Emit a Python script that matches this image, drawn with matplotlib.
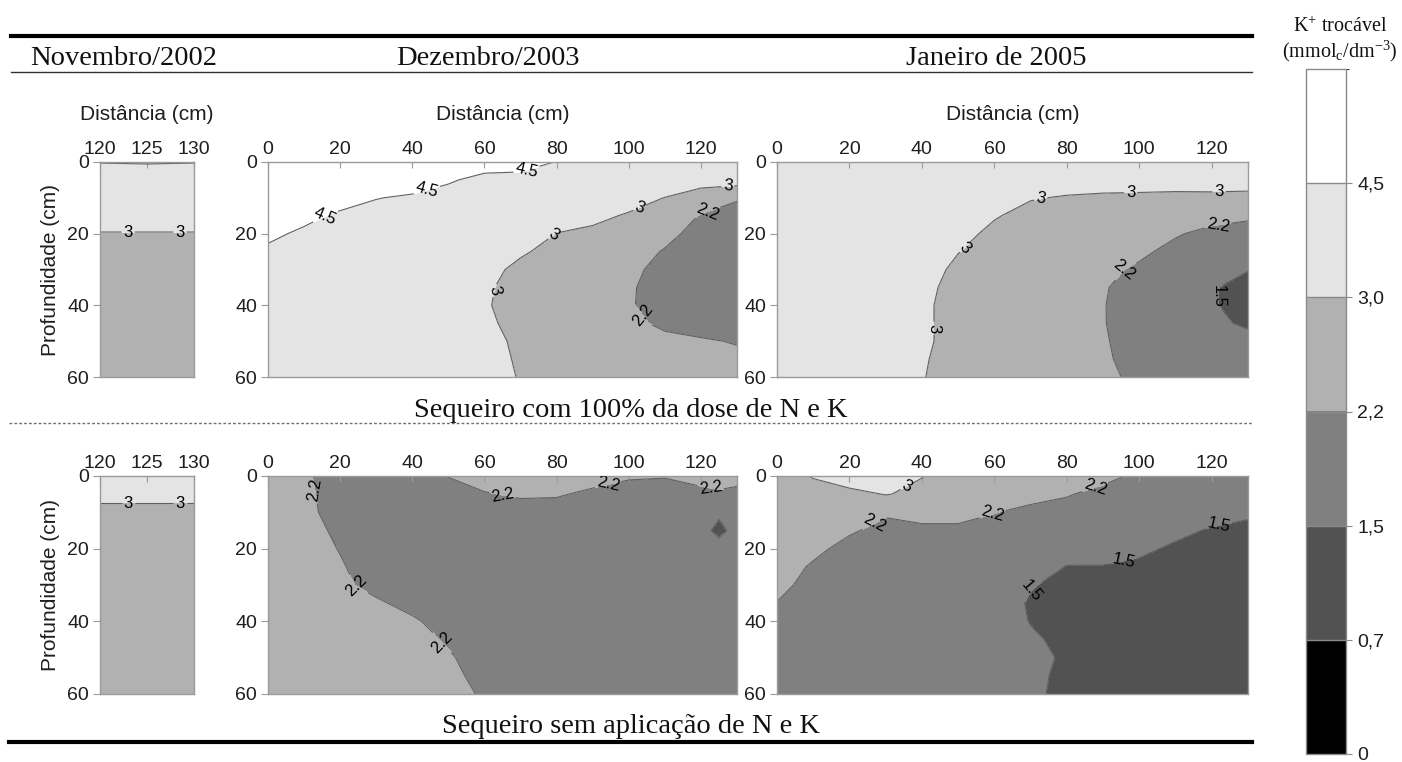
import numpy as np
import matplotlib
matplotlib.use('Agg')
import matplotlib as mpl
import matplotlib.pyplot as plt
from matplotlib.colors import ListedColormap, BoundaryNorm
from matplotlib.lines import Line2D

plt.rcParams['font.family'] = ['Liberation Sans', 'DejaVu Sans']
plt.rcParams['mathtext.fontset'] = 'custom'
plt.rcParams['mathtext.rm'] = 'Liberation Serif'
plt.rcParams['mathtext.it'] = 'Liberation Serif:italic'
plt.rcParams['mathtext.bf'] = 'Liberation Serif:bold'

# ---------------- data ----------------
depth = [0, 5, 10, 15, 20, 25, 30, 35, 40, 45, 50, 55, 60]
dist_nov = [120, 125, 130]
dist_full = [0, 10, 20, 30, 40, 50, 60, 70, 80, 90, 100, 110, 120, 130]
dist_dec_bot = [0, 10, 20, 30, 40, 50, 60, 70, 80, 90, 100, 110, 120, 125, 130]

col_titles = ['Novembro/2002', 'Dezembro/2003', 'Janeiro de 2005']
row_titles = ['Sequeiro com 100% da dose de N e K', 'Sequeiro sem aplicação de N e K']

k_levels = [0.0, 0.7, 1.5, 2.2, 3.0, 4.5, 6.0]
k_level_labels = ['0', '0,7', '1,5', '2,2', '3,0', '4,5']
line_levels = [0.7, 1.5, 2.2, 3.0, 4.5]
line_labels = {0.7: '0.7', 1.5: '1.5', 2.2: '2.2', 3.0: '3', 4.5: '4.5'}

nov02_top = [
    [2.95, 2.90, 2.95],
    [3.80, 3.80, 3.80],
    [3.60, 3.60, 3.60],
    [3.30, 3.30, 3.30],
    [2.97, 2.97, 2.97],
    [2.70, 2.70, 2.70],
    [2.60, 2.60, 2.60],
    [2.60, 2.60, 2.60],
    [2.60, 2.60, 2.60],
    [2.60, 2.60, 2.60],
    [2.60, 2.60, 2.60],
    [2.60, 2.60, 2.60],
    [2.60, 2.60, 2.60],
]

nov02_bot = [
    [3.60, 3.60, 3.60],
    [3.25, 3.25, 3.25],
    [2.75, 2.75, 2.75],
    [2.60, 2.60, 2.60],
    [2.60, 2.60, 2.60],
    [2.60, 2.60, 2.60],
    [2.60, 2.60, 2.60],
    [2.60, 2.60, 2.60],
    [2.60, 2.60, 2.60],
    [2.60, 2.60, 2.60],
    [2.60, 2.60, 2.60],
    [2.60, 2.60, 2.60],
    [2.60, 2.60, 2.60],
]

dec03_top = [
    [5.40, 5.30, 5.20, 5.10, 5.00, 4.90, 4.75, 4.75, 4.48, 4.10, 3.90, 3.70, 3.50, 3.40],
    [5.20, 5.10, 5.00, 4.90, 4.80, 4.56, 4.35, 4.30, 4.00, 3.70, 3.50, 3.35, 3.25, 3.35],
    [5.00, 4.90, 4.75, 4.52, 4.42, 4.30, 4.10, 3.95, 3.60, 3.40, 3.20, 2.99, 2.70, 2.25],
    [4.80, 4.65, 4.40, 4.30, 4.20, 4.10, 3.85, 3.65, 3.25, 3.12, 2.95, 2.70, 2.15, 2.00],
    [4.62, 4.40, 4.20, 4.10, 4.00, 3.90, 3.60, 3.30, 2.99, 2.90, 2.70, 2.40, 1.95, 1.85],
    [4.40, 4.20, 4.00, 3.90, 3.80, 3.70, 3.40, 3.08, 2.80, 2.75, 2.50, 2.15, 1.85, 1.80],
    [4.20, 4.00, 3.90, 3.80, 3.65, 3.55, 3.20, 2.85, 2.70, 2.60, 2.35, 2.00, 1.80, 1.75],
    [4.00, 3.90, 3.80, 3.70, 3.55, 3.40, 3.12, 2.70, 2.60, 2.50, 2.27, 1.95, 1.80, 1.75],
    [3.90, 3.80, 3.70, 3.60, 3.45, 3.30, 3.10, 2.60, 2.55, 2.45, 2.25, 1.98, 1.85, 1.80],
    [3.80, 3.75, 3.65, 3.55, 3.40, 3.30, 3.15, 2.75, 2.55, 2.45, 2.30, 2.12, 2.00, 1.95],
    [3.75, 3.70, 3.60, 3.50, 3.40, 3.35, 3.25, 2.85, 2.60, 2.50, 2.38, 2.30, 2.25, 2.17],
    [3.70, 3.70, 3.60, 3.50, 3.40, 3.40, 3.30, 2.90, 2.65, 2.55, 2.42, 2.38, 2.35, 2.30],
    [3.70, 3.65, 3.60, 3.50, 3.40, 3.45, 3.35, 2.95, 2.70, 2.60, 2.45, 2.42, 2.40, 2.35],
]

jan05_top = [
    [4.20, 4.15, 4.10, 4.00, 3.95, 3.90, 3.80, 3.70, 3.60, 3.60, 3.60, 3.60, 3.60, 3.55],
    [4.20, 4.15, 4.10, 4.00, 3.90, 3.80, 3.60, 3.35, 3.30, 3.28, 3.28, 3.28, 3.30, 3.25],
    [4.10, 4.05, 4.00, 3.90, 3.80, 3.60, 3.35, 3.04, 2.95, 2.90, 2.88, 2.85, 2.85, 2.85],
    [4.10, 4.05, 4.00, 3.85, 3.70, 3.40, 3.05, 2.80, 2.75, 2.70, 2.65, 2.60, 2.40, 2.30],
    [4.00, 3.95, 3.90, 3.80, 3.60, 3.20, 2.85, 2.65, 2.60, 2.55, 2.45, 2.25, 2.05, 1.95],
    [4.00, 3.95, 3.90, 3.70, 3.45, 3.02, 2.70, 2.55, 2.50, 2.42, 2.30, 2.05, 1.80, 1.70],
    [3.90, 3.85, 3.80, 3.60, 3.30, 2.85, 2.60, 2.45, 2.40, 2.32, 2.12, 1.90, 1.65, 1.52],
    [3.90, 3.85, 3.70, 3.50, 3.20, 2.75, 2.55, 2.40, 2.35, 2.24, 2.00, 1.82, 1.55, 1.30],
    [3.80, 3.75, 3.70, 3.45, 3.15, 2.70, 2.50, 2.40, 2.32, 2.22, 1.98, 1.80, 1.56, 1.25],
    [3.80, 3.75, 3.60, 3.40, 3.15, 2.70, 2.50, 2.40, 2.30, 2.22, 2.00, 1.82, 1.57, 1.45],
    [3.80, 3.75, 3.60, 3.40, 3.15, 2.70, 2.50, 2.40, 2.30, 2.24, 2.02, 1.85, 1.70, 1.60],
    [3.70, 3.65, 3.60, 3.40, 3.07, 2.72, 2.50, 2.40, 2.30, 2.26, 2.05, 1.90, 1.80, 1.75],
    [3.70, 3.65, 3.60, 3.40, 3.03, 2.75, 2.50, 2.40, 2.30, 2.30, 2.10, 1.95, 1.85, 1.80],
]

dec03_bot = [
    [2.50, 2.26, 2.00, 1.95, 2.05, 2.22, 2.45, 2.50, 2.50, 2.40, 2.27, 2.24, 2.40, 2.45, 2.40],
    [2.50, 2.30, 1.99, 1.92, 1.95, 1.95, 2.16, 2.27, 2.25, 2.10, 1.95, 1.90, 2.05, 2.12, 2.05],
    [2.50, 2.30, 2.05, 1.92, 1.92, 1.90, 1.95, 1.98, 1.98, 1.95, 1.90, 1.88, 1.92, 1.70, 1.92],
    [2.55, 2.35, 2.12, 1.95, 1.90, 1.88, 1.90, 1.90, 1.90, 1.90, 1.88, 1.88, 1.90, 1.20, 1.90],
    [2.55, 2.40, 2.18, 1.98, 1.90, 1.88, 1.88, 1.88, 1.88, 1.88, 1.88, 1.88, 1.90, 1.95, 1.90],
    [2.55, 2.45, 2.24, 2.00, 1.92, 1.88, 1.88, 1.88, 1.88, 1.88, 1.88, 1.88, 1.90, 1.90, 1.90],
    [2.60, 2.50, 2.30, 2.05, 1.95, 1.90, 1.88, 1.88, 1.88, 1.88, 1.88, 1.88, 1.90, 1.90, 1.90],
    [2.60, 2.50, 2.35, 2.27, 2.05, 1.92, 1.88, 1.88, 1.88, 1.88, 1.88, 1.88, 1.90, 1.90, 1.90],
    [2.60, 2.50, 2.40, 2.35, 2.27, 2.00, 1.88, 1.88, 1.88, 1.88, 1.88, 1.88, 1.90, 1.90, 1.90],
    [2.60, 2.50, 2.45, 2.40, 2.35, 2.15, 1.90, 1.88, 1.88, 1.88, 1.88, 1.88, 1.90, 1.90, 1.90],
    [2.60, 2.50, 2.45, 2.40, 2.40, 2.25, 2.00, 1.90, 1.88, 1.88, 1.88, 1.88, 1.90, 1.90, 1.90],
    [2.60, 2.50, 2.45, 2.40, 2.40, 2.30, 2.08, 1.92, 1.88, 1.88, 1.88, 1.88, 1.90, 1.90, 1.90],
    [2.60, 2.50, 2.45, 2.40, 2.40, 2.35, 2.15, 1.95, 1.88, 1.88, 1.88, 1.88, 1.90, 1.90, 1.90],
]

jan05_bot = [
    [2.60, 3.05, 3.40, 3.50, 3.02, 2.60, 2.55, 2.50, 2.50, 2.40, 2.06, 1.95, 1.90, 1.90],
    [2.60, 2.70, 2.80, 3.03, 2.85, 2.55, 2.50, 2.40, 2.25, 2.00, 1.95, 1.90, 1.85, 1.82],
    [2.55, 2.55, 2.50, 2.25, 2.45, 2.45, 2.22, 2.05, 1.95, 1.90, 1.90, 1.80, 1.70, 1.60],
    [2.50, 2.45, 2.25, 2.08, 2.05, 2.05, 1.98, 1.95, 1.85, 1.80, 1.80, 1.62, 1.45, 1.35],
    [2.45, 2.30, 2.07, 1.98, 1.95, 1.92, 1.92, 1.90, 1.72, 1.70, 1.60, 1.42, 1.30, 1.25],
    [2.40, 2.15, 2.00, 1.92, 1.90, 1.90, 1.90, 1.75, 1.48, 1.48, 1.40, 1.30, 1.20, 1.20],
    [2.30, 2.08, 1.95, 1.90, 1.88, 1.90, 1.90, 1.55, 1.30, 1.30, 1.25, 1.20, 1.20, 1.20],
    [2.19, 2.00, 1.92, 1.88, 1.88, 1.90, 1.90, 1.42, 1.25, 1.20, 1.20, 1.20, 1.20, 1.20],
    [2.05, 1.95, 1.90, 1.88, 1.88, 1.90, 1.90, 1.47, 1.25, 1.20, 1.20, 1.20, 1.20, 1.20],
    [1.95, 1.90, 1.90, 1.88, 1.88, 1.90, 1.90, 1.60, 1.33, 1.20, 1.20, 1.20, 1.20, 1.20],
    [1.90, 1.90, 1.90, 1.88, 1.88, 1.90, 1.90, 1.70, 1.40, 1.20, 1.20, 1.20, 1.20, 1.20],
    [1.90, 1.90, 1.90, 1.88, 1.88, 1.90, 1.90, 1.75, 1.26, 1.20, 1.20, 1.20, 1.20, 1.20],
    [1.90, 1.90, 1.90, 1.88, 1.88, 1.90, 1.90, 1.80, 1.10, 1.20, 1.20, 1.20, 1.20, 1.20],
]

# contour-label anchor points (layout only)
nov02_top_lbl = [(123, 19.5), (128.5, 19.5)]
nov02_bot_lbl = [(123, 7.5), (128.5, 7.5)]
dec03_top_lbl = [(16, 15.3), (44, 7.8), (72, 3.3), (79, 20), (103, 12.8),
                 (127.5, 7), (62, 35.7), (121.6, 13.4), (105, 42)]
jan05_top_lbl = [(72.8, 10), (97.6, 8.6), (122, 8.8), (51.5, 23.6), (43, 46.4),
                 (121.6, 17), (95.3, 29.6), (121.2, 37.6)]
dec03_bot_lbl = [(13, 3.9), (24.6, 30), (48.5, 45.6), (64.9, 5.7), (94.4, 2.9), (122.6, 3.7)]
jan05_bot_lbl = [(36, 3.3), (26.8, 12.7), (59.5, 10.4), (87.9, 3.5),
                 (121.9, 12.7), (95.9, 24.7), (70, 31.2)]

# ---------------- figure ----------------
W, H = 1402, 762
fig = plt.figure(figsize=(W / 100, H / 100), dpi=100)
fig.patch.set_facecolor('white')

fill_colors = ['#000000', '#525252', '#808080', '#b1b1b1', '#e4e4e4', '#ffffff']
cmap = ListedColormap(fill_colors)
norm = BoundaryNorm(k_levels, cmap.N)

SPINE = '#9a9a9a'
TXT = '#1e1e1e'
SERIF = ['Liberation Serif', 'DejaVu Serif']


def fx(px):
    return px / W


def fy(py):
    return 1 - py / H


def panel(rect, xs, zs, xlim, xticks, lbl, xlabel=False, ylabel=False):
    l, t, r, b = rect
    ax = fig.add_axes([l / W, 1 - b / H, (r - l) / W, (b - t) / H])
    X, D = np.meshgrid(np.array(xs, float), np.array(depth, float))
    Z = np.array(zs, float)
    ax.contourf(X, D, Z, levels=k_levels, cmap=cmap, norm=norm)
    cs = ax.contour(X, D, Z, levels=line_levels, colors='#606060', linewidths=0.8)
    if lbl:
        ax.clabel(cs, fmt=line_labels, manual=lbl, inline=True, inline_spacing=2,
                  fontsize=12, colors='black')
    ax.set_xlim(*xlim)
    ax.set_ylim(60, 0)
    ax.xaxis.tick_top()
    ax.set_xticks(xticks)
    ax.set_yticks([0, 20, 40, 60])
    ax.tick_params(axis='x', direction='in', length=4, pad=3, labelsize=14,
                   color=SPINE, labelcolor=TXT)
    ax.tick_params(axis='y', direction='out', length=5, pad=3, labelsize=14,
                   color=SPINE, labelcolor=TXT)
    for s in ax.spines.values():
        s.set_color(SPINE)
        s.set_linewidth(1.0)
    if xlabel:
        ax.xaxis.set_label_position('top')
        ax.set_xlabel('Distância (cm)', fontsize=15, color=TXT, labelpad=15)
    if ylabel:
        ax.set_ylabel('Profundidade (cm)', fontsize=15, color=TXT, labelpad=5)
    return ax


full_ticks = [0, 20, 40, 60, 80, 100, 120]
panel((100, 162, 194, 377), dist_nov, nov02_top, (120, 130), [120, 125, 130], nov02_top_lbl, True, True)
panel((268, 162, 737, 377), dist_full, dec03_top, (0, 130), full_ticks, dec03_top_lbl, True, False)
panel((777, 162, 1248, 377), dist_full, jan05_top, (0, 130), full_ticks, jan05_top_lbl, True, False)
panel((100, 476, 194, 694), dist_nov, nov02_bot, (120, 130), [120, 125, 130], nov02_bot_lbl, False, True)
panel((268, 476, 737, 694), dist_dec_bot, dec03_bot, (0, 130), full_ticks, dec03_bot_lbl, False, False)
panel((777, 476, 1248, 694), dist_full, jan05_bot, (0, 130), full_ticks, jan05_bot_lbl, False, False)

# headers and rules
for cx, title in zip([124, 488, 996], col_titles):
    fig.text(fx(cx), fy(65), title, ha='center', va='baseline', family=SERIF,
             fontsize=20.5, color='#111111')
fig.text(fx(631), fy(417), row_titles[0], ha='center', va='baseline', family=SERIF,
         fontsize=20.5, color='#111111')
fig.text(fx(631), fy(733), row_titles[1], ha='center', va='baseline', family=SERIF,
         fontsize=20.5, color='#111111')

fig.add_artist(Line2D([fx(11), fx(1252)], [fy(36), fy(36)], lw=3.0, color='black'))
fig.add_artist(Line2D([fx(11), fx(1252)], [fy(72), fy(72)], lw=1.0, color='#333333'))
fig.add_artist(Line2D([fx(9), fx(1252)], [fy(423), fy(423)], lw=1.0, color='#707070',
                      linestyle=(0, (2, 1.5))))
fig.add_artist(Line2D([fx(9), fx(1252)], [fy(742), fy(742)], lw=3.0, color='black'))

# colour bar
cax = fig.add_axes([fx(1306), fy(754), 40 / W, 685 / H])
cb = mpl.colorbar.ColorbarBase(cax, cmap=cmap, norm=norm, boundaries=k_levels,
                               spacing='uniform', ticks=k_levels[:-1], drawedges=True)
cb.set_ticklabels(k_level_labels)
cb.outline.set_edgecolor('#8a8a8a')
cb.outline.set_linewidth(1.0)
cb.dividers.set_color('#8a8a8a')
cb.dividers.set_linewidth(1.0)
cax.tick_params(length=4, color='#8a8a8a', labelsize=14, pad=4, labelcolor=TXT)

fig.text(fx(1340), fy(32), r'K$^{+}$ trocável', ha='center', va='baseline',
         family=SERIF, fontsize=14.5, color='#111111')
fig.text(fx(1340), fy(57), r'(mmol$_{\mathrm{c}}$/dm$^{-3}$)', ha='center', va='baseline',
         family=SERIF, fontsize=14.5, color='#111111')

fig.savefig('out.png', dpi=100, facecolor='white')
